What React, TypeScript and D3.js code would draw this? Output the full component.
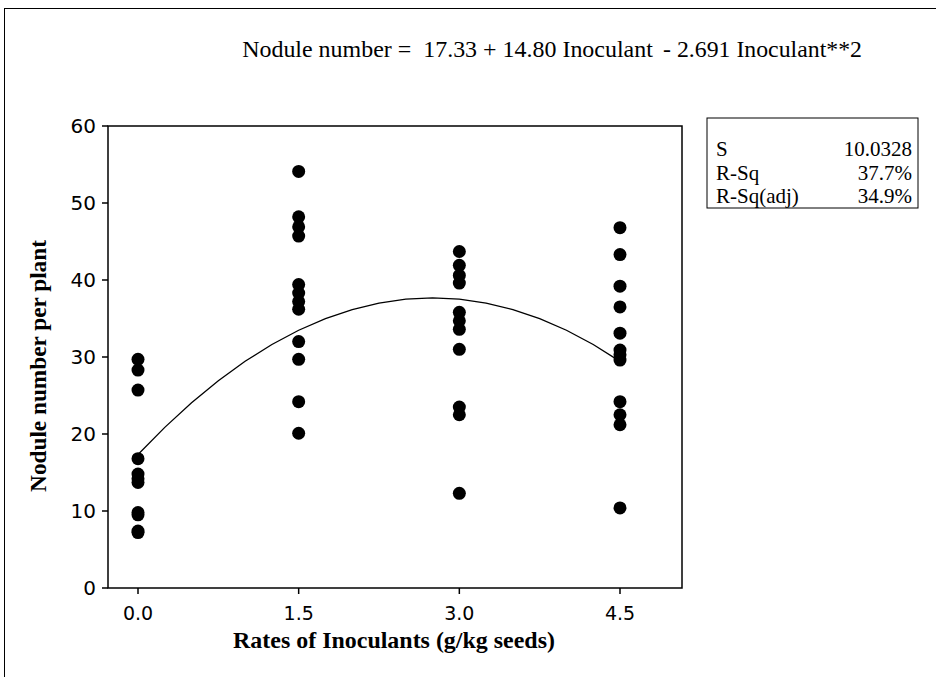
import React, { useLayoutEffect, useRef, useState } from "react";
import * as d3 from "d3";

const xTicks = [0, 1.5, 3.0, 4.5];
const yTicks = [0, 10, 20, 30, 40, 50, 60];

const rate00 = [29.7, 28.3, 25.7, 16.8, 14.8, 14.2, 13.7, 9.8, 9.5, 7.4, 7.2];
const rate15 = [54.1, 48.2, 46.9, 45.7, 39.4, 38.3, 37.2, 36.2, 32.0, 29.7, 24.2, 20.1];
const rate30 = [43.7, 41.9, 40.6, 39.6, 35.8, 34.7, 33.6, 31.0, 23.5, 22.5, 12.3];
const rate45 = [46.8, 43.3, 39.2, 36.5, 33.1, 30.9, 30.3, 29.6, 24.2, 22.5, 21.2, 10.4];
const rates = [0, 1.5, 3.0, 4.5];
const seriesValues = [rate00, rate15, rate30, rate45];

const coefficients = [17.33, 14.8, -2.691];
const fitX = d3.range(0, 4.5001, 0.25);

const statLabels = ["S", "R-Sq", "R-Sq(adj)"];
const statValues = ["10.0328", "37.7%", "34.9%"];

const serif = "'Liberation Serif', 'Times New Roman', serif";
const sans = "'DejaVu Sans', Verdana, sans-serif";

function FitText(props: {
  x: number;
  y: number;
  width: number;
  size: number;
  bold?: boolean;
  rotate?: number;
  children: string;
}) {
  const ref = useRef<SVGTextElement>(null);
  const [sx, setSx] = useState(1);
  useLayoutEffect(() => {
    if (ref.current) {
      const w = ref.current.getComputedTextLength();
      if (w > 0) setSx(props.width / w);
    }
  }, [props.width, props.children]);
  const rot = props.rotate ? ` rotate(${props.rotate})` : "";
  return (
    <g transform={`translate(${props.x},${props.y})${rot} scale(${sx},1)`}>
      <text
        ref={ref}
        x={0}
        y={0}
        textAnchor="middle"
        fontFamily={serif}
        fontSize={props.size}
        fontWeight={props.bold ? "bold" : "normal"}
        style={{ whiteSpace: "pre" }}
      >
        {props.children}
      </text>
    </g>
  );
}

export default function App() {
  const x = d3.scaleLinear().domain([0, 4.5]).range([138, 620]);
  const y = d3.scaleLinear().domain([0, 60]).range([588, 126]);
  const left = 108, right = 682, top = 126, bottom = 588;

  const fit = (v: number) => coefficients[0] + coefficients[1] * v + coefficients[2] * v * v;
  const line = d3
    .line<number>()
    .x((d) => x(d))
    .y((d) => y(fit(d)));

  const points: { r: number; v: number }[] = [];
  rates.forEach((r, i) => seriesValues[i].forEach((v) => points.push({ r, v })));

  return (
    <svg
      width={936}
      height={677}
      style={{ position: "absolute", left: 0, top: 0, background: "#fff" }}
    >
      <rect x={0} y={0} width={936} height={677} fill="#fff" />
      <rect x={4.5} y={8.5} width={1000} height={1000} fill="none" stroke="#000" strokeWidth={1} />

      {/* title */}
      <FitText x={(242 + 653) / 2} y={57} width={411} size={23}>
        {"Nodule number =  17.33 + 14.80 Inoculant"}
      </FitText>
      <FitText x={(663 + 862) / 2} y={57} width={199} size={23}>
        {"- 2.691 Inoculant**2"}
      </FitText>

      {/* plot frame */}
      <rect x={left} y={top} width={right - left} height={bottom - top} fill="none" stroke="#000" strokeWidth={1.5} />

      {/* y ticks */}
      {yTicks.map((t) => (
        <g key={"y" + t}>
          <line x1={left - 6} x2={left} y1={y(t)} y2={y(t)} stroke="#000" strokeWidth={1.5} />
          <text x={left - 12} y={y(t)} dy="0.36em" textAnchor="end" fontFamily={sans} fontSize={20}>
            {t}
          </text>
        </g>
      ))}

      {/* x ticks */}
      {xTicks.map((t) => (
        <g key={"x" + t}>
          <line x1={x(t)} x2={x(t)} y1={bottom} y2={bottom + 6} stroke="#000" strokeWidth={1.5} />
          <text x={x(t)} y={bottom + 32} textAnchor="middle" fontFamily={sans} fontSize={19}>
            {t.toFixed(1)}
          </text>
        </g>
      ))}

      {/* axis labels */}
      <FitText x={394} y={648} width={322} size={23} bold>
        {"Rates of Inoculants (g/kg seeds)"}
      </FitText>
      <FitText x={46} y={366} width={252} size={23} bold rotate={-90}>
        {"Nodule number per plant"}
      </FitText>

      {/* fitted curve */}
      <path d={line(fitX) || ""} fill="none" stroke="#000" strokeWidth={1.3} />

      {/* points */}
      {points.map((p, i) => (
        <circle key={i} cx={x(p.r)} cy={y(p.v)} r={6.5} fill="#000" />
      ))}

      {/* stats box */}
      <rect x={707} y={118} width={211} height={90} fill="#fff" stroke="#000" strokeWidth={1} />
      {statLabels.map((s, i) => (
        <g key={s}>
          <text x={716} y={156 + i * 23.5} fontFamily={serif} fontSize={21}>
            {s}
          </text>
          <text x={912} y={156 + i * 23.5} textAnchor="end" fontFamily={serif} fontSize={21}>
            {statValues[i]}
          </text>
        </g>
      ))}
    </svg>
  );
}
